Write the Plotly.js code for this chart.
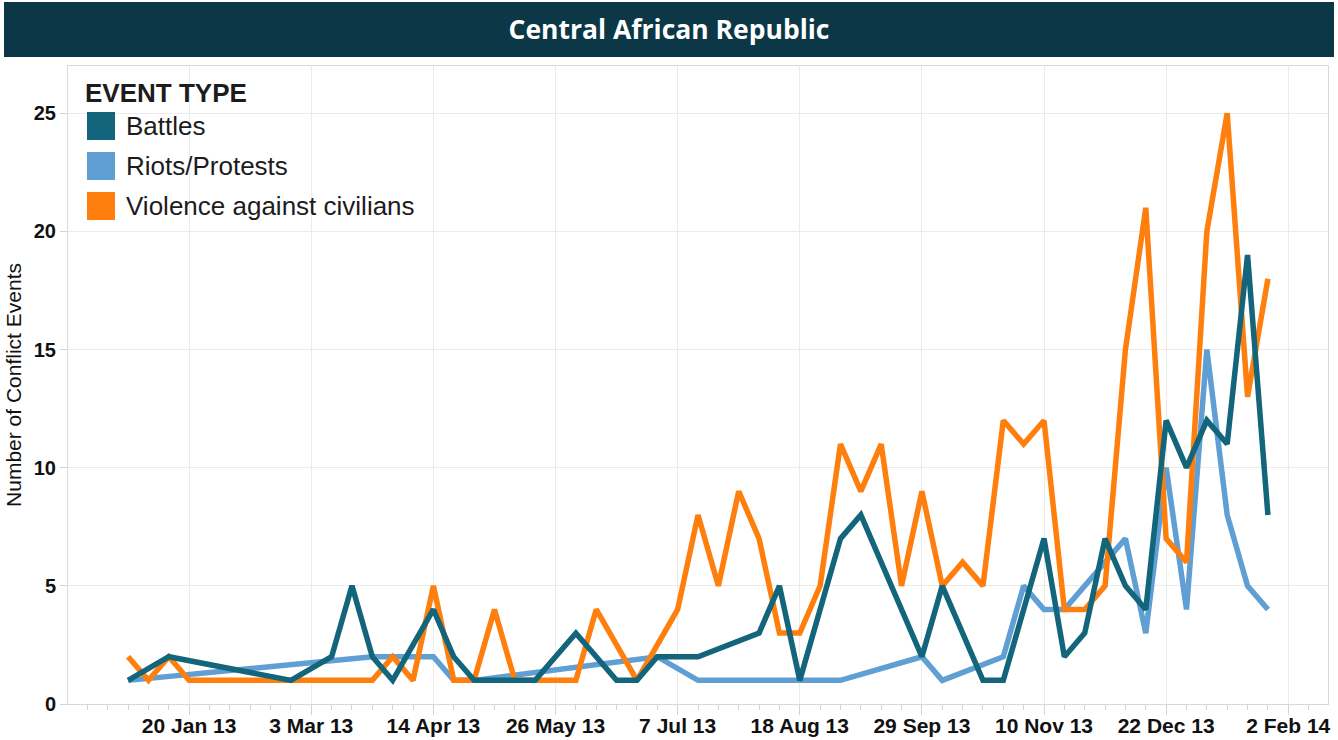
<!DOCTYPE html>
<html>
<head>
<meta charset="utf-8">
<script src="https://cdn.plot.ly/plotly-3.0.1.min.js"></script>
<style>
  html, body { margin: 0; padding: 0; background: #ffffff; }
  #chart { width: 1338px; height: 740px; }
</style>
</head>
<body>
<div id="chart"></div>
<script>
// ---- Data (weekly counts; null = no point for that week) ----
const weeks = [
  '2012-12-30','2013-01-06','2013-01-13','2013-01-20','2013-01-27','2013-02-03','2013-02-10','2013-02-17',
  '2013-02-24','2013-03-03','2013-03-10','2013-03-17','2013-03-24','2013-03-31','2013-04-07','2013-04-14',
  '2013-04-21','2013-04-28','2013-05-05','2013-05-12','2013-05-19','2013-05-26','2013-06-02','2013-06-09',
  '2013-06-16','2013-06-23','2013-06-30','2013-07-07','2013-07-14','2013-07-21','2013-07-28','2013-08-04',
  '2013-08-11','2013-08-18','2013-08-25','2013-09-01','2013-09-08','2013-09-15','2013-09-22','2013-09-29',
  '2013-10-06','2013-10-13','2013-10-20','2013-10-27','2013-11-03','2013-11-10','2013-11-17','2013-11-24',
  '2013-12-01','2013-12-08','2013-12-15','2013-12-22','2013-12-29','2014-01-05','2014-01-12','2014-01-19',
  '2014-01-26'
];

const battles = [
  1, null, 2, null, null, null, null, null,
  1, null, 2, 5, 2, 1, null, 4,
  2, 1, null, null, 1, null, 3, null,
  1, 1, 2, null, 2, null, null, 3,
  5, 1, null, 7, 8, null, null, 2,
  5, null, 1, 1, null, 7, 2, 3,
  7, 5, 4, 12, 10, 12, 11, 19,
  8
];

const riots = [
  1, null, null, null, null, null, null, null,
  null, null, null, null, 2, null, null, 2,
  1, 1, null, null, null, null, null, null,
  null, null, 2, null, 1, null, null, null,
  null, null, null, 1, null, null, null, 2,
  1, null, null, 2, 5, 4, 4, null,
  null, 7, 3, 10, 4, 15, 8, 5,
  4
];

const violence = [
  2, 1, 2, 1, null, null, null, null,
  null, null, null, null, 1, 2, 1, 5,
  1, 1, 4, 1, null, null, 1, 4,
  null, 1, null, 4, 8, 5, 9, 7,
  3, 3, 5, 11, 9, 11, 5, 9,
  5, 6, 5, 12, 11, 12, 4, 4,
  5, 15, 21, 7, 6, 20, 25, 13,
  18
];

const seriesNames = ['Battles', 'Riots/Protests', 'Violence against civilians'];
const seriesColors = ['#12657a', '#609fd3', '#ff7f0e'];
const legendTitle = 'EVENT TYPE';
const chartTitle = 'Central African Republic';
const yTitle = 'Number of Conflict Events';
const yTicks = [0, 5, 10, 15, 20, 25];

// ---- Geometry (pixels) ----
const W = 1338, H = 740;
const M = { l: 68, r: 10, t: 66, b: 36 };
const PW = W - M.l - M.r, PH = H - M.t - M.b;
const px = x => (x - M.l) / PW;
const py = y => (H - M.b - y) / PH;

const DAY = 86400000;
const FONT = 'Liberation Sans, Arial, Helvetica, sans-serif';

function mk(name, vals, color) {
  return {
    type: 'scatter', mode: 'lines', name: name,
    x: weeks, y: vals, connectgaps: true,
    line: { color: color, width: 5.5, shape: 'linear' },
    showlegend: false, hoverinfo: 'x+y+name'
  };
}

const traces = [
  mk(seriesNames[1], riots, seriesColors[1]),
  mk(seriesNames[2], violence, seriesColors[2]),
  mk(seriesNames[0], battles, seriesColors[0])
];

// Legend built from names/colors
const shapes = [
  { type: 'rect', xref: 'paper', yref: 'paper', layer: 'below',
    x0: px(4), x1: px(1334), y0: py(57), y1: py(2),
    fillcolor: '#0b3747', line: { width: 0 } }
];
const annotations = [
  { xref: 'paper', yref: 'paper', x: px(83), y: py(93), xanchor: 'left', yanchor: 'middle',
    text: '<b>' + legendTitle + '</b>', showarrow: false,
    font: { family: FONT, size: 26, color: '#1c1c1c' } }
];
const rowY = [126, 166, 206];
seriesNames.forEach((n, i) => {
  shapes.push({ type: 'rect', xref: 'paper', yref: 'paper',
    x0: px(87), x1: px(115), y0: py(rowY[i] + 14), y1: py(rowY[i] - 14),
    fillcolor: seriesColors[i], line: { width: 0 } });
  annotations.push({ xref: 'paper', yref: 'paper', x: px(124), y: py(rowY[i]),
    xanchor: 'left', yanchor: 'middle', text: n, showarrow: false,
    font: { family: FONT, size: 26, color: '#1c1c1c' } });
});

const layout = {
  width: W, height: H,
  margin: M,
  paper_bgcolor: '#ffffff', plot_bgcolor: '#ffffff',
  showlegend: false,
  title: {
    text: '<b>' + chartTitle + '</b>',
    font: { family: 'Open Sans, Liberation Sans, sans-serif', size: 26.5, color: '#ffffff' },
    x: 0.5, xref: 'container', xanchor: 'center',
    y: 1 - 30 / H, yref: 'container', yanchor: 'middle'
  },
  xaxis: {
    type: 'date',
    range: ['2012-12-09 08:00', '2014-02-15 16:00'],
    tick0: '2013-01-20', dtick: 42 * DAY,
    tickformat: '%-d %b %y',
    ticks: 'outside', ticklen: 10, tickcolor: '#d4d4d4', tickwidth: 1,
    ticklabelstandoff: -7,
    tickfont: { family: FONT, size: 21, color: '#111111', weight: 'bold' },
    showgrid: true, gridcolor: '#ebebeb', gridwidth: 1,
    showline: true, linecolor: '#d9d9d9', linewidth: 1, mirror: true,
    zeroline: false,
    minor: { tick0: '2012-12-30', dtick: 7 * DAY, ticks: 'outside', ticklen: 5,
             tickcolor: '#d4d4d4', tickwidth: 1, showgrid: false },
    automargin: false, fixedrange: true
  },
  yaxis: {
    range: [0, 27],
    tickvals: yTicks,
    ticks: 'outside', ticklen: 7, tickcolor: '#d4d4d4', tickwidth: 1,
    tickfont: { family: FONT, size: 20, color: '#111111', weight: 'bold' },
    showgrid: true, gridcolor: '#ebebeb', gridwidth: 1,
    showline: true, linecolor: '#d9d9d9', linewidth: 1, mirror: true,
    zeroline: false,
    title: { text: yTitle, font: { family: FONT, size: 21, color: '#111111' }, standoff: 6 },
    automargin: false, fixedrange: true
  },
  shapes: shapes,
  annotations: annotations
};

Plotly.newPlot('chart', traces, layout, { displayModeBar: false, staticPlot: true });
</script>
</body>
</html>
